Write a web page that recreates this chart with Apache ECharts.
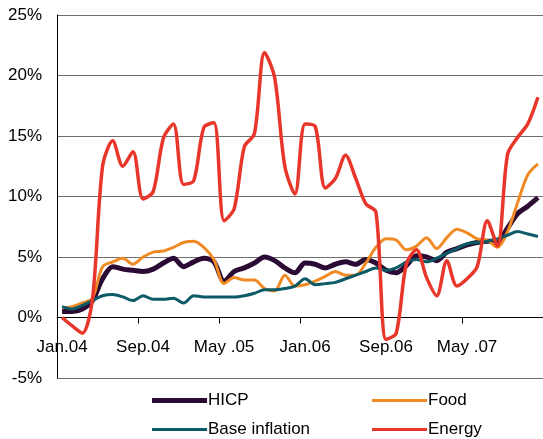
<!DOCTYPE html>
<html>
<head>
<meta charset="utf-8">
<script src="https://cdn.jsdelivr.net/npm/echarts@6/dist/echarts.min.js"></script>
<style>
html,body{margin:0;padding:0;background:#fff;}
#chart{width:543px;height:439px;}
</style>
</head>
<body>
<div id="chart"></div>
<script>
var monthNames = ['Jan.','Feb.','Mar.','Apr.','May .','Jun.','Jul.','Aug.','Sep.','Oct.','Nov.','Dec.'];
var years = ['04','05','06','07'];
var categories = [];
years.forEach(function(y){ monthNames.forEach(function(m){ categories.push(m + y); }); });

var hicp = [0.5,0.5,0.7,1.4,3.2,4.2,4.0,3.9,3.8,4.0,4.5,4.9,
            4.2,4.6,4.9,4.6,3.0,3.8,4.1,4.5,5.0,4.7,4.1,3.7,
            4.5,4.4,4.1,4.4,4.6,4.4,4.8,4.5,3.9,3.7,4.3,5.1,
            5.0,4.7,5.4,5.7,6.0,6.2,6.3,6.3,7.4,8.6,9.2,9.9];
var food = [0.8,0.9,1.2,1.6,4.2,4.6,4.9,4.4,5.0,5.4,5.5,5.8,
            6.2,6.3,5.8,4.8,2.8,3.3,3.1,3.1,2.4,2.2,3.5,2.6,
            2.7,3.0,3.4,3.8,3.5,3.5,4.5,5.8,6.5,6.4,5.6,5.9,
            6.6,5.7,6.6,7.3,7.0,6.5,6.4,5.8,7.1,9.5,11.8,12.7];
var baseInflation = [0.9,0.7,1.0,1.4,1.8,1.9,1.7,1.4,1.8,1.5,1.5,1.6,
            1.2,1.8,1.7,1.7,1.7,1.7,1.8,2.0,2.3,2.3,2.4,2.6,
            3.2,2.7,2.8,2.9,3.2,3.5,3.8,4.1,3.9,4.1,4.6,4.8,
            4.6,4.9,5.3,5.7,6.1,6.2,6.3,6.5,6.8,7.1,6.9,6.7];
var energy = [0.0,-0.7,-1.3,1.5,12.5,14.6,12.5,13.7,9.8,10.4,14.8,16.0,
            11.0,11.3,15.7,16.1,8.0,9.0,14.1,15.2,21.9,19.8,12.5,10.2,
            16.0,15.8,10.7,11.5,13.4,11.5,9.4,8.7,-1.8,-1.3,4.4,5.6,
            3.3,1.8,4.7,2.6,3.2,4.2,8.0,5.9,13.5,14.9,16.0,18.2];

var colors = {HICP:'#2b0b33', Food:'#f08a24', 'Base inflation':'#0b5a66', Energy:'#e8372a'};
var font = 'Arial, "Liberation Sans", sans-serif';

var chart = echarts.init(document.getElementById('chart'), null, {renderer:'canvas'});

function lg(name, left, top, h){
  return {
    data:[{name:name, icon:'rect'}],
    left:left, top:top, padding:0, itemWidth:55, itemHeight:h, itemGap:0,
    textStyle:{fontFamily:font, fontSize:17, color:'#000', padding:[0,0,0,-4]},
    selectedMode:false
  };
}

chart.setOption({
  animation:false,
  backgroundColor:'#fff',
  grid:{left:57, right:0, top:15, bottom:61, containLabel:false},
  legend:[
    lg('HICP',152,392,5),
    lg('Food',372,392,3),
    lg('Base inflation',152,421,3),
    lg('Energy',372,421,3)
  ],
  xAxis:{
    type:'category', data:categories, boundaryGap:true,
    axisLine:{onZero:true, lineStyle:{color:'#000', width:1}},
    axisTick:{show:true, interval:7, length:6, lineStyle:{color:'#000'}},
    axisLabel:{interval:7, margin:-39, fontFamily:font, fontSize:17, color:'#000'},
    splitLine:{show:false}
  },
  yAxis:{
    type:'value', min:-5, max:25, interval:5,
    axisLine:{show:true, lineStyle:{color:'#000', width:1}},
    axisTick:{show:false},
    axisLabel:{formatter:'{value}%', margin:15, fontFamily:font, fontSize:17, color:'#000'},
    splitLine:{show:true, lineStyle:{color:'#6e6e6e', width:1}}
  },
  series:[
    {name:'HICP', type:'line', data:hicp, smooth:0.3, showSymbol:false, symbol:'none',
      lineStyle:{color:colors.HICP, width:5}, itemStyle:{color:colors.HICP}},
    {name:'Food', type:'line', data:food, smooth:0.3, showSymbol:false, symbol:'none',
      lineStyle:{color:colors.Food, width:3}, itemStyle:{color:colors.Food}},
    {name:'Base inflation', type:'line', data:baseInflation, smooth:0.3, showSymbol:false, symbol:'none',
      lineStyle:{color:colors['Base inflation'], width:3}, itemStyle:{color:colors['Base inflation']}},
    {name:'Energy', type:'line', data:energy, smooth:0.3, showSymbol:false, symbol:'none',
      lineStyle:{color:colors.Energy, width:3.5}, itemStyle:{color:colors.Energy}}
  ]
});
</script>
</body>
</html>
